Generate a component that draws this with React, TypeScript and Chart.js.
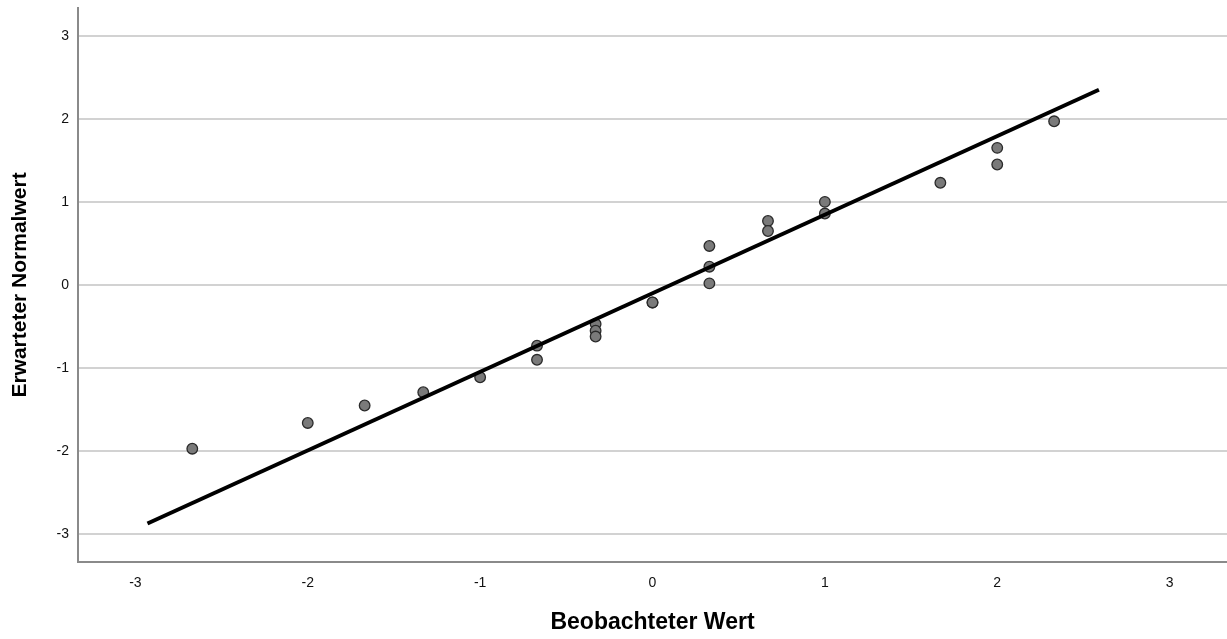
import React, { useEffect, useRef } from "react";
import { Chart, registerables } from "chart.js";

Chart.register(...registerables);

// Observed values vs. expected normal quantiles
const observed = [-2.67, -2.0, -1.67, -1.33, -1.0, -0.67, -0.67, -0.33, -0.33, -0.33, 0, 0, 0.33, 0.33, 0.33, 0.67, 0.67, 1.0, 1.0, 1.67, 2.0, 2.0, 2.33];
const expected = [-1.97, -1.66, -1.45, -1.29, -1.11, -0.73, -0.9, -0.47, -0.55, -0.62, -0.21, -0.21, 0.47, 0.22, 0.02, 0.77, 0.65, 1.0, 0.86, 1.23, 1.65, 1.45, 1.97];

// Reference line end points
const refLineX = [-2.93, 2.59];
const refLineY = [-2.87, 2.35];

const tickValues = [-3, -2, -1, 0, 1, 2, 3];
const axisMin = -3.333;
const axisMax = 3.333;

const FONT = 'Arial, "Liberation Sans", sans-serif';

export default function App() {
  const canvasRef = useRef<HTMLCanvasElement>(null);

  useEffect(() => {
    const canvas = canvasRef.current;
    if (!canvas) return;

    const setTicks = (scale: any) => {
      scale.ticks = tickValues.map((v) => ({ value: v }));
    };

    const chart = new Chart(canvas, {
      type: "scatter",
      data: {
        datasets: [
          {
            type: "line",
            data: refLineX.map((x, i) => ({ x, y: refLineY[i] })),
            borderColor: "#000000",
            borderWidth: 4,
            pointRadius: 0,
            fill: false,
            order: 0,
          },
          {
            data: observed.map((x, i) => ({ x, y: expected[i] })),
            backgroundColor: "#7a7a7a",
            borderColor: "#2a2a2a",
            borderWidth: 1.3,
            pointRadius: 5.3,
            order: 1,
          },
        ],
      },
      options: {
        responsive: false,
        animation: false,
        layout: { autoPadding: false, padding: { top: 8, right: 0, left: 0, bottom: 0 } },
        plugins: {
          legend: { display: false },
          tooltip: { enabled: false },
        },
        scales: {
          x: {
            type: "linear",
            min: axisMin,
            max: axisMax,
            afterBuildTicks: setTicks,
            afterFit: (scale: any) => {
              scale.height = 77;
              scale.paddingLeft = 0;
              scale.paddingRight = 0;
            },
            grid: { display: true, color: "rgba(0,0,0,0)", drawTicks: false },
            border: { display: true, color: "#8a8a8a", width: 2 },
            ticks: {
              padding: 13,
              color: "#111111",
              font: { family: FONT, size: 14 },
              callback: (v: any) => String(v),
            },
            title: {
              display: true,
              text: "Beobachteter Wert",
              color: "#000000",
              font: { family: FONT, size: 23, weight: "bold" },
              padding: { top: 0, bottom: 3 },
            },
          },
          y: {
            type: "linear",
            min: axisMin,
            max: axisMax,
            afterBuildTicks: setTicks,
            afterFit: (scale: any) => {
              scale.width = 78;
              scale.paddingTop = 0;
              scale.paddingBottom = 0;
            },
            grid: { color: "#d2d2d2", lineWidth: 2, drawTicks: false },
            border: { display: true, color: "#8a8a8a", width: 2 },
            ticks: {
              padding: 9,
              color: "#111111",
              font: { family: FONT, size: 14 },
              callback: (v: any) => String(v),
            },
            title: {
              display: true,
              text: "Erwarteter Normalwert",
              color: "#000000",
              font: { family: FONT, size: 21, weight: "bold" },
              padding: { top: 8, bottom: 0 },
            },
          },
        },
      },
    });

    return () => chart.destroy();
  }, []);

  return (
    <div style={{ position: "absolute", left: 0, top: 0, width: 1227, height: 639, background: "#ffffff" }}>
      <canvas ref={canvasRef} width={1227} height={639} />
    </div>
  );
}
